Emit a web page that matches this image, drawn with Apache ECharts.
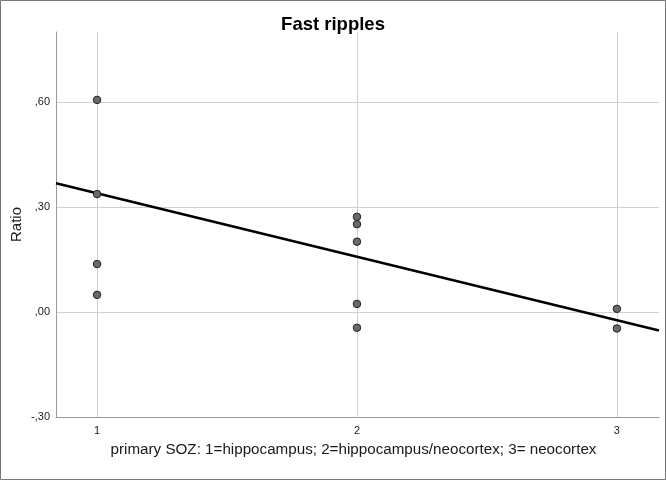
<!DOCTYPE html>
<html>
<head>
<meta charset="utf-8">
<script src="https://cdn.jsdelivr.net/npm/echarts@6/dist/echarts.min.js"></script>
<style>
html,body{margin:0;padding:0;background:#fff;}
#chart{width:666px;height:480px;}
</style>
</head>
<body>
<div id="chart"></div>
<script>
// Data
const sozX = [1, 1, 1, 1, 2, 2, 2, 2, 2, 3, 3];
const ratio = [0.606, 0.337, 0.137, 0.049, 0.272, 0.251, 0.201, 0.023, -0.045, 0.009, -0.047];
const fitX = [0.842, 3.162];
const fitY = [0.368, -0.053];
const xTicks = [1, 2, 3];
const yTicks = [-0.3, 0, 0.3, 0.6];
const titleText = 'Fast ripples';
const xName = 'primary SOZ: 1=hippocampus; 2=hippocampus/neocortex; 3= neocortex';
const yName = 'Ratio';

function fmtY(v) {
  const r = Math.round(v * 100) / 100;
  const s = Math.abs(r).toFixed(2).replace(/^0\./, ',');
  return (r < 0 ? '-' : '') + s;
}

const chart = echarts.init(document.getElementById('chart'), null, {renderer: 'canvas'});
const font = 'Liberation Sans, Arial, sans-serif';
chart.setOption({
  animation: false,
  backgroundColor: '#fff',
  textStyle: {fontFamily: font},
  title: {
    text: titleText, left: 'center', top: 10,
    textStyle: {fontFamily: font, fontSize: 18.5, fontWeight: 'bold', color: '#000'}
  },
  grid: {left: 56, top: 32, right: 7, bottom: 63, containLabel: false, outerBoundsMode: 'none'},
  graphic: [{
    type: 'rect', shape: {x: 0.5, y: 0.5, width: 665, height: 479},
    style: {fill: 'none', stroke: '#777', lineWidth: 1}, silent: true, z: 100
  }],
  xAxis: {
    type: 'value', min: fitX[0], max: fitX[1],
    name: xName, nameLocation: 'middle', nameGap: 25, nameMoveOverlap: false,
    nameTextStyle: {fontFamily: font, fontSize: 15.2, color: '#1a1a1a', padding: [0, 8, 0, 0]},
    axisLine: {show: true, onZero: false, lineStyle: {color: '#9a9a9a', width: 1}},
    axisTick: {show: false, customValues: xTicks},
    axisLabel: {customValues: xTicks, margin: 8, fontSize: 11, color: '#1a1a1a', fontFamily: font,
      formatter: v => String(Math.round(v))},
    splitLine: {show: true, lineStyle: {color: '#cfcfcf', width: 1}}
  },
  yAxis: {
    type: 'value', min: yTicks[0], max: 0.8, interval: 0.3,
    name: yName, nameLocation: 'middle', nameGap: 32, nameRotate: 90, nameMoveOverlap: false,
    nameTextStyle: {fontFamily: font, fontSize: 15, color: '#1a1a1a'},
    axisLine: {show: true, lineStyle: {color: '#9a9a9a', width: 1}},
    axisTick: {show: false},
    axisLabel: {margin: 6, fontSize: 11, color: '#1a1a1a', fontFamily: font,
      showMaxLabel: false, formatter: fmtY},
    splitLine: {show: true, showMinLine: false, showMaxLine: false, lineStyle: {color: '#cfcfcf', width: 1}}
  },
  series: [
    {
      type: 'line', data: fitX.map((x, i) => [x, fitY[i]]),
      symbol: 'none', lineStyle: {color: '#000', width: 2.5}, z: 3, silent: true
    },
    {
      type: 'scatter', data: sozX.map((x, i) => [x, ratio[i]]),
      symbolSize: 7.5, itemStyle: {color: '#6a6a6a', borderColor: '#222', borderWidth: 1, opacity: 1}, z: 4
    }
  ]
});
</script>
</body>
</html>
